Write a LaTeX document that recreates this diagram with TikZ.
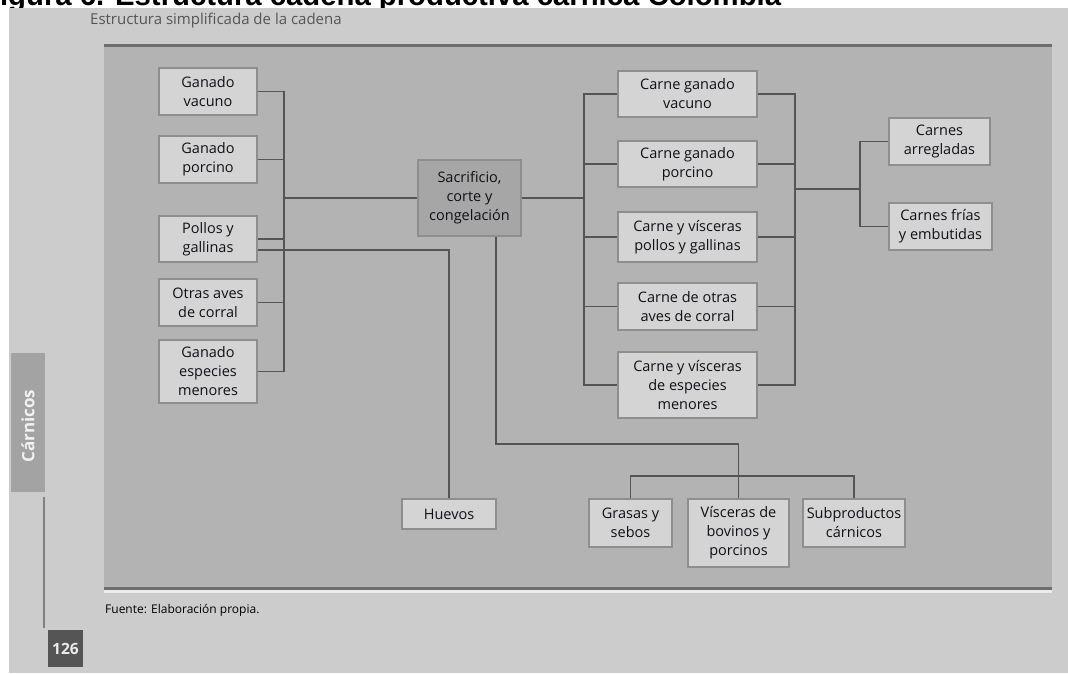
\documentclass[tikz,border=0pt]{standalone}
\usepackage{fontspec}
\setmainfont{Open Sans}
\newfontfamily\arialfont{Liberation Sans}
\definecolor{pagegray}{HTML}{CCCCCC}
\definecolor{panelgray}{HTML}{B3B3B3}
\definecolor{panelline}{HTML}{6E6E6E}
\definecolor{boxfill}{HTML}{D4D4D4}
\definecolor{boxline}{HTML}{8E8E8E}
\definecolor{centerfill}{HTML}{A6A6A6}
\definecolor{conn}{HTML}{555555}
\definecolor{txt}{HTML}{101018}
\definecolor{titlegray}{HTML}{555555}
\definecolor{tabgray}{HTML}{A3A3A3}
\definecolor{pagenum}{HTML}{555555}
\tikzset{
  box/.style={draw=boxline, fill=boxfill, line width=1.5pt, align=center, inner sep=0pt,
    font=\fontsize{14.5}{19}\selectfont, text=txt},
  centerbox/.style={box, fill=centerfill},
  wire/.style={draw=conn, line width=1.8pt}
}
\begin{document}
\begin{tikzpicture}[x=1pt,y=-1pt]
\useasboundingbox (0,0) rectangle (1068,673);
\clip (0,0) rectangle (1068,673);
\fill[white] (0,0) rectangle (1068,673);
% clipped figure heading
\node[anchor=base west, inner sep=0pt, font=\arialfont\bfseries\fontsize{29.3}{30}\selectfont] (fig) at (-18,5) {Figura 6. Estructura cadena productiva cárnica Colombia};
% page
\fill[pagegray] (9,8) rectangle (1068,673);
% panel
\fill[panelgray] (104,44) rectangle (1052,592);
\fill[panelline] (104,43.5) rectangle (1052,47);
\fill[panelline] (104,587) rectangle (1052,590);
\fill[white!75!panelgray] (104,590) rectangle (1052,593);
% header
\node[anchor=west, inner sep=0pt, text=titlegray, font=\fontsize{15}{17}\selectfont] (ttl) at (90,21) {Estructura simplificada de la cadena};
% side tab
\node[fill=tabgray, minimum width=34pt, minimum height=139pt, inner sep=0pt] (tab) at (28,422.5) {};
\node[rotate=90, text=white!85!tabgray, font=\bfseries\fontsize{17}{20}\selectfont, inner sep=0pt] (tabt) at (28,426) {Cárnicos};
\coordinate (sl1) at (44,497);
\coordinate (sl2) at (44,628);
\draw[draw=gray, line width=1.3pt] (sl1) -- (sl2);
\node[fill=pagenum, minimum width=35pt, minimum height=37pt, inner sep=0pt, text=white!92!black, font=\bfseries\fontsize{15.5}{18}\selectfont] (pn) at (65.5,648.5) {126};
% source
\node[anchor=west, inner sep=0pt, text=black, font=\fontsize{12}{14}\selectfont] (src) at (105,610) {Fuente: Elaboración propia.};
% left nodes
\node[box, minimum width=98pt, minimum height=47pt] (gv) at (208,91.5) {Ganado\\vacuno};
\node[box, minimum width=98pt, minimum height=47pt] (gp) at (208,159.5) {Ganado\\porcino};
\node[box, minimum width=98pt, minimum height=46pt] (pg) at (208,239) {Pollos y\\gallinas};
\node[box, minimum width=98pt, minimum height=47pt] (oa) at (208,302.5) {Otras aves\\de corral};
\node[box, minimum width=98pt, minimum height=63pt] (em) at (208,371.5) {Ganado\\especies\\menores};
% center
\node[centerbox, minimum width=103pt, minimum height=76pt] (sac) at (469.5,198) {Sacrificio,\\corte y\\congelación};
\node[box, minimum width=94pt, minimum height=30pt] (hue) at (449,514) {Huevos};
% right column
\node[box, minimum width=139pt, minimum height=46pt] (cgv) at (687.5,94) {Carne ganado\\vacuno};
\node[box, minimum width=139pt, minimum height=46pt] (cgp) at (687.5,164) {Carne ganado\\porcino};
\node[box, minimum width=139pt, minimum height=50pt] (cvp) at (687.5,237) {Carne y vísceras\\pollos y gallinas};
\node[box, minimum width=139pt, minimum height=47pt] (cda) at (687.5,306.5) {Carne de otras\\aves de corral};
\node[box, minimum width=139pt, minimum height=66pt] (cve) at (687.5,385) {Carne y vísceras\\de especies\\menores};
% far right
\node[box, minimum width=101pt, minimum height=47pt] (ca) at (939.5,141.5) {Carnes\\arregladas};
\node[box, minimum width=103pt, minimum height=47pt] (cf) at (940.5,226.5) {Carnes frías\\y embutidas};
% bottom
\node[box, minimum width=83pt, minimum height=48pt] (gs) at (630.5,523) {Grasas y\\sebos};
\node[box, minimum width=101pt, minimum height=68pt] (vb) at (738.5,533) {Vísceras de\\bovinos y\\porcinos};
\node[box, minimum width=102pt, minimum height=48pt] (sp) at (854,523) {Subproductos\\cárnicos};
% junction coordinates
\coordinate (lb) at (284,198);
\coordinate (rb) at (584,198);
\coordinate (rb2) at (795,189);
\coordinate (rb3) at (860,189);
\coordinate (jb) at (738.5,444);
\coordinate (bb) at (738.5,476);
% connectors left
\draw[wire] (gv.east) -| (lb);
\draw[wire] (gp.east) -| (lb);
\draw[wire] (pg.east) -| (lb);
\draw[wire] (oa.east) -| (lb);
\draw[wire] (em.east) -| (lb);
\draw[wire] (lb) -- (sac.west);
\draw[wire] ([yshift=-11pt]pg.east) -| (hue.north);
% connectors right
\draw[wire] (sac.east) -- (rb);
\draw[wire] (cgv.west) -| (rb);
\draw[wire] (cgp.west) -| (rb);
\draw[wire] (cvp.west) -| (rb);
\draw[wire] (cda.west) -| (rb);
\draw[wire] (cve.west) -| (rb);
\draw[wire] (cgv.east) -| (rb2);
\draw[wire] (cgp.east) -| (rb2);
\draw[wire] (cvp.east) -| (rb2);
\draw[wire] (cda.east) -| (rb2);
\draw[wire] (cve.east) -| (rb2);
\draw[wire] (rb2) -- (rb3);
\draw[wire] (ca.west) -| (rb3);
\draw[wire] (cf.west) -| (rb3);
% connectors bottom
\draw[wire] ([xshift=26.5pt]sac.south) |- (jb) -- (vb.north);
\draw[wire] (gs.north) |- (bb) -| (sp.north);
\end{tikzpicture}
\end{document}
